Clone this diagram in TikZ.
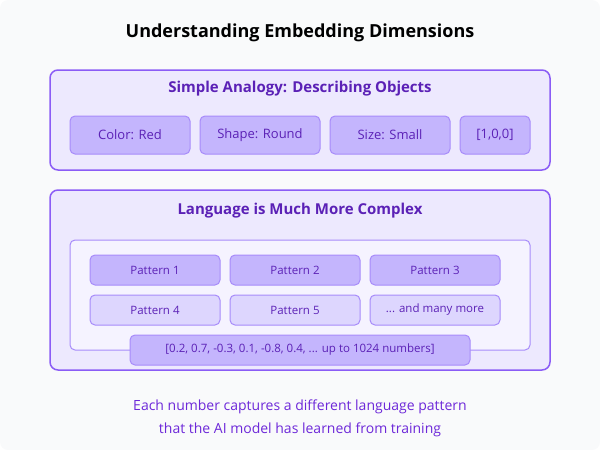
\documentclass[tikz,border=0pt]{standalone}
\usepackage{fontspec}
\setmainfont{Open Sans}
\definecolor{bgc}{HTML}{F9FAFB}
\definecolor{pborder}{HTML}{8B5CF6}
\definecolor{pfill}{HTML}{EDE9FE}
\definecolor{lborder}{HTML}{A78BFA}
\definecolor{cfill}{HTML}{F5F3FF}
\definecolor{bfill}{HTML}{C4B5FD}
\definecolor{bfill2}{HTML}{DDD6FE}
\definecolor{ptext}{HTML}{5B21B6}
\definecolor{ctext}{HTML}{6D28D9}
\tikzset{
 panel/.style={draw=pborder,line width=1.5pt,fill=pfill,rounded corners=8pt},
 cont/.style={draw=lborder,line width=1pt,fill=cfill,rounded corners=5pt},
 item/.style={draw=lborder,line width=1pt,fill=bfill,rounded corners=5pt,text=ptext,font=\fontsize{13}{15}\selectfont},
 pat/.style={draw=lborder,line width=1pt,fill=bfill,rounded corners=5pt,text=ptext,font=\fontsize{11.5}{13}\selectfont},
 pat2/.style={pat,fill=bfill2},
 ptitle/.style={text=ptext,font=\bfseries\fontsize{15}{18}\selectfont},
}
\begin{document}
\begin{tikzpicture}[x=1pt,y=-1pt]
\fill[bgc,rounded corners=8pt] (0,0) rectangle (600,450);
\useasboundingbox (0,0) rectangle (600,450);
\node[font=\bfseries\fontsize{18}{22}\selectfont] (title) at (300,33) {Understanding Embedding Dimensions};
\draw[panel] (50,70) rectangle (550,170);
\node[ptitle] (t1) at (300,89) {Simple Analogy: Describing Objects};
\draw[item] (70,116) rectangle node (c1) {Color: Red} (190,154);
\draw[item] (200,116) rectangle node (c2) {Shape: Round} (320,154);
\draw[item] (330,116) rectangle node (c3) {Size: Small} (450,154);
\draw[item] (460,116) rectangle node (c4) {[1,0,0]} (530,154);
\draw[panel] (50,190) rectangle (550,370);
\node[ptitle] (t2) at (300,211) {Language is Much More Complex};
\draw[cont] (70,240) rectangle (530,350);
\draw[pat] (90,255) rectangle node (p1) {Pattern 1} (220,285);
\draw[pat] (230,255) rectangle node (p2) {Pattern 2} (360,285);
\draw[pat] (370,255) rectangle node (p3) {Pattern 3} (500,285);
\draw[pat2] (90,295) rectangle node (p4) {Pattern 4} (220,325);
\draw[pat2] (230,295) rectangle node (p5) {Pattern 5} (360,325);
\draw[pat2] (370,295) rectangle node (p6) {... and many more} (500,325);
\draw[pat] (130,335) rectangle node (nums) {[0.2, 0.7, -0.3, 0.1, -0.8, 0.4, ... up to 1024 numbers]} (470,365);
\node[text=ctext,font=\fontsize{14}{17}\selectfont] (cap1) at (300,407) {Each number captures a different language pattern};
\node[text=ctext,font=\fontsize{14}{17}\selectfont] (cap2) at (300,430) {that the AI model has learned from training};
\end{tikzpicture}
\end{document}
